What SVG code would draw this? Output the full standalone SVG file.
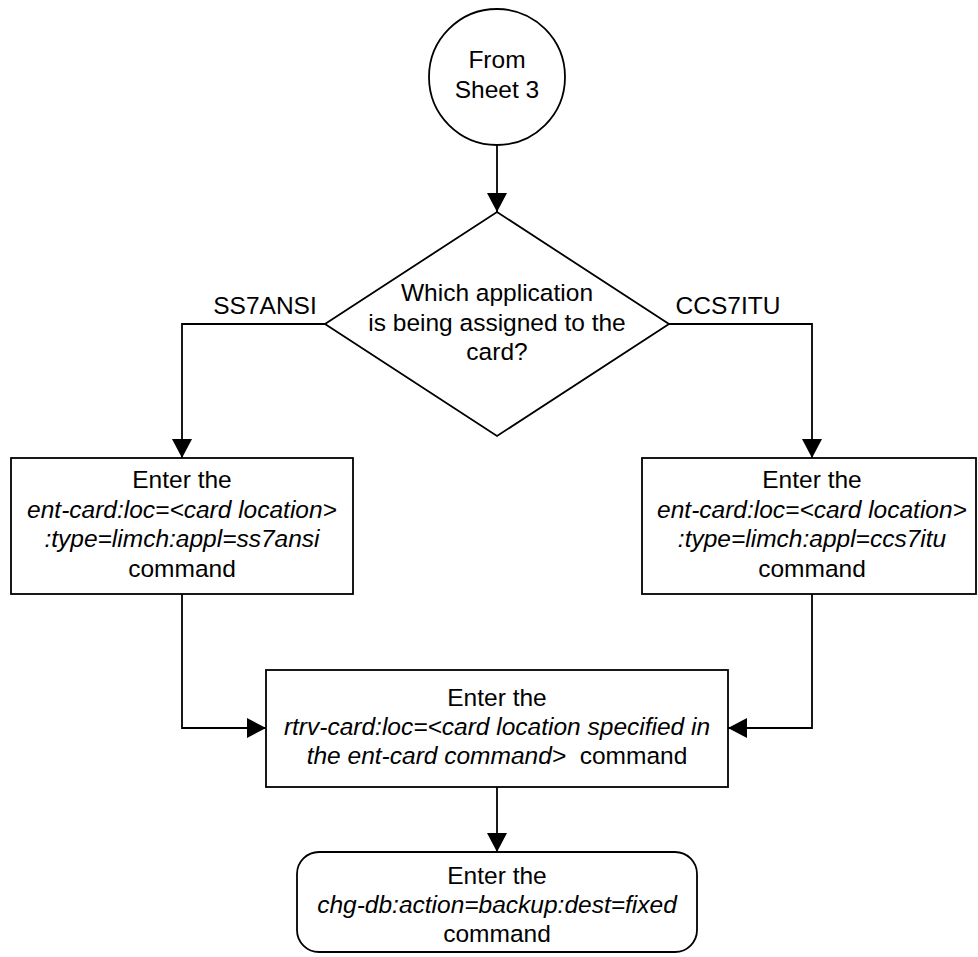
<svg xmlns="http://www.w3.org/2000/svg" width="978" height="957" viewBox="0 0 978 957">
<style>
.s{fill:#fff;stroke:#000;stroke-width:1.8}
.c{fill:none;stroke:#000;stroke-width:1.8}
text{font-family:"Liberation Sans",Arial,sans-serif;font-size:24.5px;fill:#000;text-anchor:middle}
.i{font-style:italic}
</style>
<defs>
<marker id="a" markerUnits="userSpaceOnUse" markerWidth="19" markerHeight="20" viewBox="0 0 19 20" refX="19" refY="10" orient="auto">
<path d="M0,0 L19,10 L0,20 Z" fill="#000"/>
</marker>
</defs>
<g id="connectors">
<path class="c" d="M497,145 V212" marker-end="url(#a)"/>
<path class="c" d="M325,324 H182 V458" marker-end="url(#a)"/>
<path class="c" d="M669,324 H812 V458" marker-end="url(#a)"/>
<path class="c" d="M182,594 V728 H266" marker-end="url(#a)"/>
<path class="c" d="M812,594 V728 H728" marker-end="url(#a)"/>
<path class="c" d="M497,787 V852" marker-end="url(#a)"/>
<text x="265" y="314">SS7ANSI</text>
<text x="728" y="314">CCS7ITU</text>
</g>
<g id="start">
<circle class="s" cx="497" cy="77" r="68"/>
<text x="497" y="68">From</text>
<text x="497" y="98">Sheet 3</text>
</g>
<g id="decision">
<path class="s" d="M497,212 L669,324 L497,436 L325,324 Z"/>
<text x="497" y="301">Which application</text>
<text x="497" y="331">is being assigned to the</text>
<text x="497" y="360">card?</text>
</g>
<g id="ss7ansi">
<rect class="s" x="11" y="458" width="342" height="136"/>
<text x="182" y="488">Enter the</text>
<text x="182" y="518" class="i">ent-card:loc=&lt;card location&gt;</text>
<text x="182" y="547" class="i">:type=limch:appl=ss7ansi</text>
<text x="182" y="577">command</text>
</g>
<g id="ccs7itu">
<rect class="s" x="642" y="458" width="334" height="136"/>
<text x="812" y="488">Enter the</text>
<text x="812" y="518" class="i">ent-card:loc=&lt;card location&gt;</text>
<text x="812" y="547" class="i">:type=limch:appl=ccs7itu</text>
<text x="812" y="577">command</text>
</g>
<g id="rtrv">
<rect class="s" x="266" y="670" width="462" height="117"/>
<text x="497" y="706">Enter the</text>
<text x="497" y="735" class="i">rtrv-card:loc=&lt;card location specified in</text>
<text x="497" y="764" xml:space="preserve"><tspan class="i">the ent-card command&gt;</tspan>  command</text>
</g>
<g id="chgdb">
<rect class="s" x="297" y="852" width="400" height="100" rx="22" ry="22"/>
<text x="497" y="884">Enter the</text>
<text x="497" y="913" class="i">chg-db:action=backup:dest=fixed</text>
<text x="497" y="942">command</text>
</g>
</svg>
